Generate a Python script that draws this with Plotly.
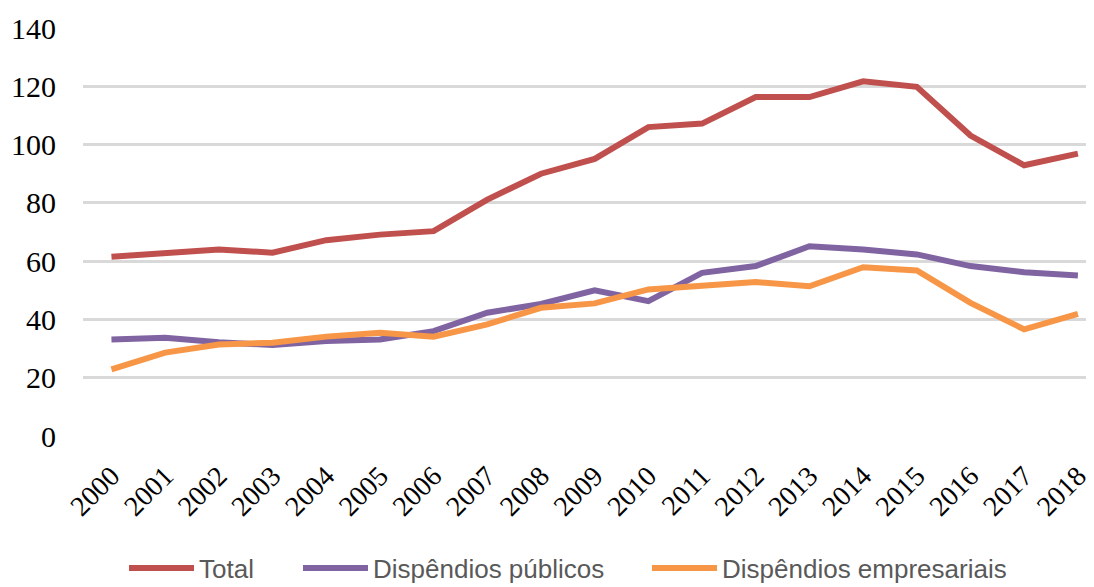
import plotly.graph_objects as go

years = [str(y) for y in range(2000, 2019)]
total = [61.5, 62.9, 64.0, 62.9, 67.2, 69.1, 70.3, 81.1, 90.0, 95.1, 106.0, 107.2, 116.3, 116.3, 121.7, 119.8, 103.1, 92.9, 96.9]
publicos = [33.1, 33.7, 32.2, 31.2, 32.6, 33.1, 36.0, 42.3, 45.3, 50.0, 46.3, 56.0, 58.3, 65.1, 64.0, 62.3, 58.3, 56.2, 55.1]
empresariais = [22.9, 28.6, 31.4, 32.0, 34.1, 35.4, 34.1, 38.3, 44.0, 45.5, 50.3, 51.4, 52.8, 51.4, 57.9, 56.8, 45.7, 36.6, 41.9]
y_ticks = [0, 20, 40, 60, 80, 100, 120, 140]

names = ["Total", "Dispêndios públicos", "Dispêndios empresariais"]
colors = ["#C0504D", "#8064A2", "#F79646"]
series = [total, publicos, empresariais]
legend_ids = ["legend", "legend2", "legend3"]

# page body has an 8px margin; figure is sized/positioned to compensate
OFF = 8
FW, FH = 1094 - OFF, 584
L, W, T, H = 83 - OFF, 1011, 28 - OFF, 408
legend_px = [124 - OFF, 298 - OFF, 647 - OFF]

SERIF = "Liberation Serif"
SANS = "Liberation Sans"

fig = go.Figure()
for n, c, s, lg in zip(names, colors, series, legend_ids):
    fig.add_trace(go.Scatter(x=years, y=s, name=n, mode="lines", legend=lg,
                             line=dict(color=c, width=6, shape="linear")))

legend_common = dict(orientation="h", yanchor="bottom", y=-(FH - 0.5 - (T + H)) / H, xanchor="left",
                     font=dict(family=SANS, size=26, color="#595959"),
                     itemwidth=65, bgcolor="rgba(0,0,0,0)")
layout_legends = {}
for lg, px in zip(legend_ids, legend_px):
    layout_legends[lg] = dict(legend_common, x=(px - L) / W)

fig.update_layout(
    width=FW, height=FH,
    margin=dict(l=L, r=FW - L - W, t=T, b=FH - T - H),
    paper_bgcolor="white", plot_bgcolor="white",
    showlegend=True,
    xaxis=dict(type="category", range=[-0.53, 18.3], tickangle=-45, automargin=False,
               tickfont=dict(family=SERIF, size=28, color="black"),
               showgrid=False, zeroline=False, showline=False, ticks="", ticklabelstandoff=17),
    yaxis=dict(range=[0, 140], tickvals=y_ticks, automargin=False,
               tickfont=dict(family=SERIF, size=30, color="black"),
               showgrid=True, gridcolor="#D9D9D9", gridwidth=2.5, zeroline=False, showline=False,
               ticks="", ticklabelstandoff=26),
    **layout_legends,
)

fig.write_html("out.html")
